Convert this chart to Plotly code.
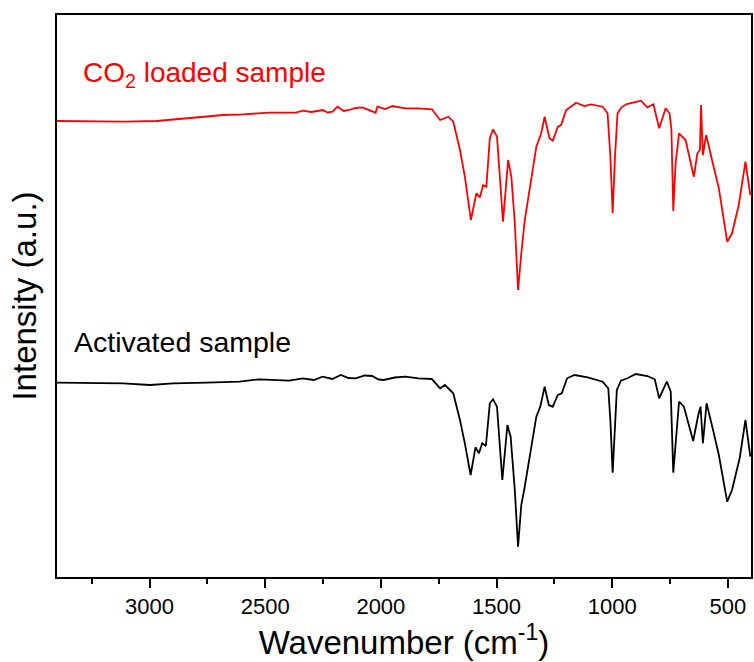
import plotly.graph_objects as go

# Wavenumbers (cm^-1) and intensities (a.u.)
co2_wn = [3400, 3257, 3113, 2970, 2869, 2783, 2682, 2596, 2482, 2367, 2338, 2300, 2252, 2230, 2209,
          2188, 2160, 2138, 2110, 2080, 2050, 2023, 2015, 1980, 1951, 1920, 1894, 1838, 1779, 1744,
          1708, 1687, 1658, 1637, 1611, 1587, 1572, 1558, 1544, 1529, 1515, 1498, 1472, 1450, 1436,
          1421, 1407, 1393, 1378, 1328, 1307, 1292, 1271, 1257, 1235, 1221, 1199, 1156, 1120, 1092,
          1041, 1020, 1008, 998, 988, 977, 960, 937, 876, 848, 822, 797, 769, 752, 744, 736, 726,
          711, 683, 647, 632, 621, 616, 608, 594, 560, 539, 503, 482, 453, 424, 403]
co2_int = [456, 455.3, 455.3, 456, 458, 460.3, 462, 462.7, 464.3, 464.3, 466.3, 465, 467, 464.5, 465.3,
           470.3, 466, 467, 469, 469.7, 466.5, 464.3, 470.3, 468, 471, 469.5, 468.7, 468.7, 467.7, 457,
           460.3, 455.3, 427, 400.3, 357, 383.7, 379.7, 392, 390.3, 438.7, 447.7, 440.3, 355.3, 417, 400.3,
           353.7, 287, 323.7, 357, 430.3, 443.7, 460.3, 438.7, 436.3, 450.3, 452, 467, 474.3, 471, 472.7,
           470.3, 463.7, 420.3, 363.7, 420.3, 463.7, 469.7, 473, 476.3, 469.7, 472.7, 448.7, 468.7, 463.7,
           447, 366, 413.7, 443.7, 437, 400.3, 423.7, 427, 472, 422, 442, 408.7, 388.7, 335.3, 343.7,
           372, 415.3, 382]

act_wn = [3400, 3257, 3113, 2998, 2898, 2754, 2611, 2525, 2396, 2338, 2290, 2252, 2210, 2173, 2140,
          2109, 2070, 2037, 2010, 1988, 1940, 1894, 1838, 1780, 1744, 1723, 1687, 1658, 1637, 1612,
          1591, 1576, 1562, 1546, 1529, 1515, 1498, 1475, 1453, 1439, 1421, 1407, 1393, 1378, 1328,
          1311, 1292, 1274, 1257, 1235, 1218, 1195, 1163, 1106, 1041, 1017, 1008, 998, 988, 980, 962,
          934, 898, 848, 816, 797, 764, 747, 736, 724, 711, 690, 650, 628, 618, 608, 592, 564, 539,
          503, 482, 449, 424, 403]
act_int = [194.3, 194.3, 193.7, 192, 193.7, 194.3, 195.3, 197.7, 196.3, 198.7, 197, 200.3, 198, 202, 199,
           198.7, 201.5, 201, 197.5, 197, 199.5, 200.3, 198.7, 198, 188.7, 192, 183.7, 157, 133.7, 102,
           129.7, 123.7, 133.7, 131, 173.7, 177.7, 170.3, 97, 152, 140.3, 87, 30.3, 72, 90.3, 160.3,
           170.3, 190.3, 172, 170.3, 182, 183.7, 198.7, 202, 199.7, 195.3, 188.7, 157, 104.3, 157, 187,
           196.3, 198.7, 203, 201, 197.7, 178.7, 195.3, 185.3, 104.3, 140.3, 175.3, 170.3, 136, 162,
           170.3, 133.7, 173.7, 147, 122, 75.3, 87, 118.7, 157, 120.3]

tick_vals = [3000, 2500, 2000, 1500, 1000, 500]
tick_text = ["3000", "2500", "2000", "1500", "1000", "500"]

FONT = "Liberation Sans, Arial, sans-serif"

fig = go.Figure()
fig.add_trace(go.Scatter(x=co2_wn, y=co2_int, mode="lines",
                         line=dict(color="#ff0000", width=1.8), showlegend=False))
fig.add_trace(go.Scatter(x=act_wn, y=act_int, mode="lines",
                         line=dict(color="#000000", width=1.8), showlegend=False))

fig.add_annotation(x=3297, y=503, xref="x", yref="y", text="CO<sub>2</sub> loaded sample",
                   showarrow=False, xanchor="left", yanchor="middle",
                   font=dict(family=FONT, size=28, color="#ff0000"))
fig.add_annotation(x=3335, y=235, xref="x", yref="y", text="Activated sample",
                   showarrow=False, xanchor="left", yanchor="middle",
                   font=dict(family=FONT, size=28.5, color="#000000"))

fig.update_layout(
    width=754, height=662,
    margin=dict(l=57, r=1, t=15, b=85),
    paper_bgcolor="white", plot_bgcolor="white",
    font=dict(family=FONT, color="black"),
    xaxis=dict(
        range=[3400, 400], showgrid=False, zeroline=False,
        showline=True, linecolor="black", linewidth=2, mirror=True,
        ticks="outside", ticklen=9, tickwidth=1.5, tickcolor="black",
        tickvals=tick_vals, ticktext=tick_text,
        tickfont=dict(family=FONT, size=22, color="black"),
        minor=dict(tickvals=[3250, 2750, 2250, 1750, 1250, 750], ticks="outside",
                   ticklen=5, tickwidth=1.5, tickcolor="black"),
        title=dict(text="Wavenumber (cm<sup>-1</sup>)", standoff=8,
                   font=dict(family=FONT, size=33, color="black")),
    ),
    yaxis=dict(
        range=[0, 562], showgrid=False, zeroline=False,
        showline=True, linecolor="black", linewidth=2, mirror=True,
        showticklabels=False, ticks="",
        title=dict(text="Intensity (a.u.)", standoff=8,
                   font=dict(family=FONT, size=33, color="black")),
    ),
)

fig.write_html("out.html")
